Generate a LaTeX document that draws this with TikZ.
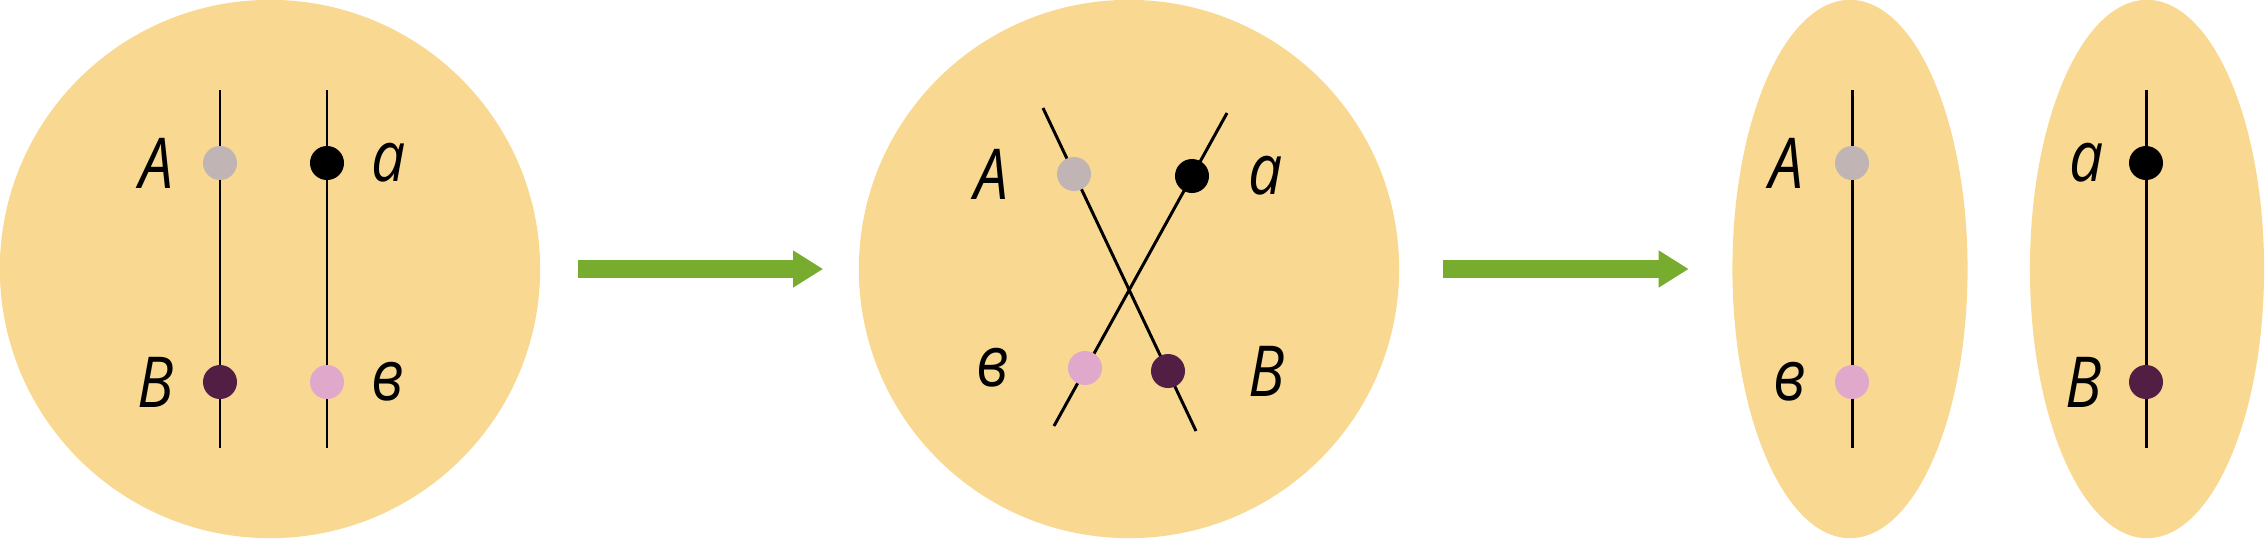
\documentclass[tikz,border=0pt]{standalone}
\usepackage{fontspec}
\newfontfamily\labfont{Open Sans}[FakeStretch=0.86]
\usetikzlibrary{positioning,arrows.meta,shapes.geometric}
\definecolor{cellfill}{HTML}{F9D891}
\definecolor{arrowgreen}{HTML}{77AC2F}
\definecolor{genegray}{HTML}{C0B4B4}
\definecolor{genepink}{HTML}{E0A9CC}
\definecolor{genedark}{HTML}{521E44}

\begin{document}
\begin{tikzpicture}[x=0.01cm,y=-0.01cm,
  cell/.style={ellipse,fill=cellfill,inner sep=0,minimum height=5.38cm},
  chrom/.style={line width=0.85pt},
  gene/.style={circle,inner sep=0,minimum size=3.4mm},
  lab/.style={inner sep=0,font=\labfont\itshape\fontsize{20}{24}\selectfont},
  flow/.style={line width=1.8mm,draw=arrowgreen,-{Triangle[length=3mm,width=3.5mm]}}]
  \useasboundingbox (0,0) rectangle (2265,538);
  \node[cell,minimum width=5.4cm] (c1) at (270,269) {};
  \node[cell,minimum width=5.4cm] (c2) at (1129,269) {};
  \node[cell,minimum width=2.35cm] (c3) at (1850,269) {};
  \node[cell,minimum width=2.34cm] (c4) at (2147,269) {};
  \draw[flow,shorten <=3.7mm,shorten >=3.5mm] (c1) -- (c2);
  \draw[flow,shorten <=4.3mm,shorten >=4.3mm] (c2) -- (c3);

  \coordinate (t1l) at (220,90); \coordinate (b1l) at (220,448);
  \coordinate (t1r) at (327,90); \coordinate (b1r) at (327,448);
  \draw[chrom] (t1l) -- (b1l);
  \draw[chrom] (t1r) -- (b1r);
  \node[gene,fill=genegray] (A1) at (220,163) {};
  \node[gene,fill=genedark] (B1) at (220,382) {};
  \node[gene,fill=black] (a1) at (327,163) {};
  \node[gene,fill=genepink] (b1) at (327,382) {};
  \node[lab,left=2.8mm of A1] {А};
  \node[lab,left=2.8mm of B1] {В};
  \node[lab,right=2.6mm of a1] {а};
  \node[lab,right=2.6mm of b1] {в};

  \coordinate (t2l) at (1043,108); \coordinate (b2r) at (1196,431);
  \coordinate (t2r) at (1227,113); \coordinate (b2l) at (1054,426);
  \draw[chrom] (t2l) -- (b2r);
  \draw[chrom] (t2r) -- (b2l);
  \node[gene,fill=genegray] (A2) at (1074,174) {};
  \node[gene,fill=black] (a2) at (1192,176) {};
  \node[gene,fill=genepink] (b2) at (1085,368) {};
  \node[gene,fill=genedark] (B2) at (1168,371) {};
  \node[lab,left=4.7mm of A2] {А};
  \node[lab,right=3.8mm of a2] {а};
  \node[lab,left=5.8mm of b2] {в};
  \node[lab,right=6.2mm of B2] {В};

  \coordinate (t3) at (1852,90); \coordinate (b3) at (1852,448);
  \draw[chrom] (t3) -- (b3);
  \node[gene,fill=genegray] (A3) at (1852,163) {};
  \node[gene,fill=genepink] (b3g) at (1852,382) {};
  \node[lab,left=3.0mm of A3] {А};
  \node[lab,left=2.8mm of b3g] {в};

  \coordinate (t4) at (2146,90); \coordinate (b4) at (2146,448);
  \draw[chrom] (t4) -- (b4);
  \node[gene,fill=black] (a4) at (2146,163) {};
  \node[gene,fill=genedark] (B4) at (2146,382) {};
  \node[lab,left=2.4mm of a4] {а};
  \node[lab,left=2.6mm of B4] {В};
\end{tikzpicture}
\end{document}
